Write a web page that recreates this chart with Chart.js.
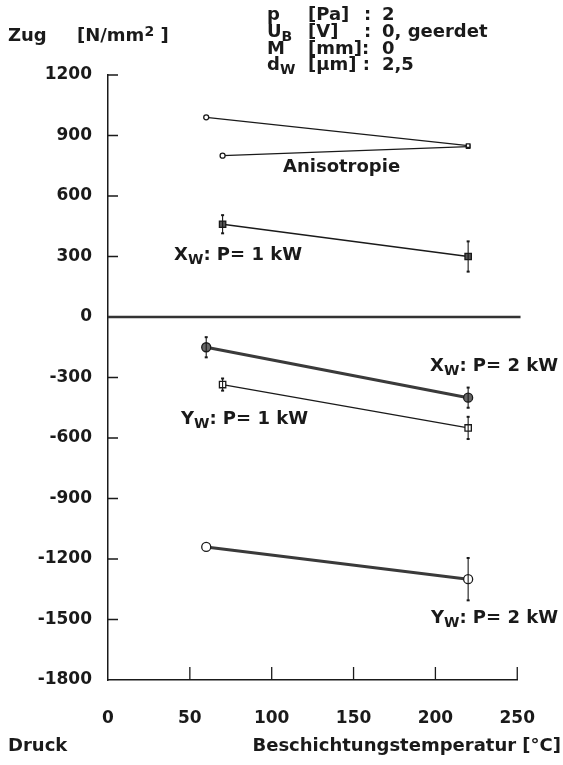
<!DOCTYPE html>
<html>
<head>
<meta charset="utf-8">
<script src="https://cdn.jsdelivr.net/npm/chart.js@4.4.1/dist/chart.umd.min.js"></script>
<style>
  html, body { margin: 0; padding: 0; background: #fff; }
  #wrap { width: 563px; height: 765px; }
</style>
</head>
<body>
<div id="wrap"><canvas id="c" width="563" height="765"></canvas></div>
<script>
// Eigenspannung gegen Beschichtungstemperatur

const FONT = "'DejaVu Sans', 'Open Sans', sans-serif";
const INK = "#1a1a1a";

// Achsen
const tempTicks = [0, 50, 100, 150, 200, 250];
const spannTicks = [1200, 900, 600, 300, 0, -300, -600, -900, -1200, -1500, -1800];

// Nulllinie (läuft etwas über 250 hinaus)
const nullT = [0, 252];
const nullS = [0, 0];

// Anisotropie (zwei Linien, ohne Fehlerbalken)
const anisoObenT = [60, 220];
const anisoObenS = [990, 850];
const anisoUntenT = [70, 220];
const anisoUntenS = [800, 845];

// Xw, P = 1 kW
const xw1T = [70, 220];
const xw1S = [460, 300];
const xw1Err = [45, 75];

// Xw, P = 2 kW
const xw2T = [60, 220];
const xw2S = [-150, -400];
const xw2Err = [50, 50];

// Yw, P = 1 kW
const yw1T = [70, 220];
const yw1S = [-335, -550];
const yw1Err = [30, 55];

// Yw, P = 2 kW
const yw2T = [60, 220];
const yw2S = [-1140, -1300];
const yw2Err = [0, 105];

const pts = (t, s) => t.map((x, i) => ({ x, y: s[i] }));

function serie(label, t, s, opt) {
  return Object.assign({
    label,
    data: pts(t, s),
    showLine: true,
    borderColor: INK,
    borderWidth: 1.3,
    pointBorderColor: INK,
    pointBorderWidth: 1.3,
    pointBackgroundColor: "#fff",
    pointRadius: 4.5
  }, opt);
}

// Text mit Indizes: parts = [[text, "sub"|"sup"|""], ...]
function partFont(mode, size) {
  const s = mode ? Math.round(size * 0.75) : size;
  return `bold ${s}px ${FONT}`;
}

function richText(ctx, x, y, parts, size, align) {
  ctx.textBaseline = "middle";
  ctx.textAlign = "left";
  let total = 0;
  for (const [txt, mode] of parts) {
    ctx.font = partFont(mode, size);
    total += ctx.measureText(txt).width;
  }
  let cx = align === "right" ? x - total : x;
  for (const [txt, mode] of parts) {
    ctx.font = partFont(mode, size);
    const dy = mode === "sub" ? size * 0.3 : mode === "sup" ? -size * 0.2 : 0;
    ctx.fillText(txt, cx, y + dy);
    cx += ctx.measureText(txt).width;
  }
}

// Index im datasets-Array -> Fehlerbalken
const errSets = { 3: xw1Err, 4: xw2Err, 5: yw1Err, 6: yw2Err };

const extras = {
  id: "extras",
  afterDraw(chart) {
    const { ctx, scales: { x, y } } = chart;
    ctx.save();
    ctx.strokeStyle = INK;
    ctx.fillStyle = INK;

    // kurze Striche nach innen
    ctx.lineWidth = 1.3;
    ctx.beginPath();
    for (const v of tempTicks.slice(1)) {
      const px = x.getPixelForValue(v);
      ctx.moveTo(px, y.bottom);
      ctx.lineTo(px, y.bottom - 13);
    }
    for (const v of spannTicks) {
      if (v === 0 || v === -1800) continue;
      const py = y.getPixelForValue(v);
      ctx.moveTo(x.left, py);
      ctx.lineTo(x.left + 10, py);
    }
    ctx.stroke();

    // Fehlerbalken
    ctx.lineWidth = 1.1;
    for (const [idx, errs] of Object.entries(errSets)) {
      const ds = chart.data.datasets[idx];
      ds.data.forEach((p, i) => {
        const e = errs[i];
        if (!e) return;
        const px = x.getPixelForValue(p.x);
        const y1 = y.getPixelForValue(p.y + e);
        const y2 = y.getPixelForValue(p.y - e);
        ctx.beginPath();
        ctx.moveTo(px, y1);
        ctx.lineTo(px, y2);
        ctx.stroke();
        ctx.fillRect(px - 1.5, y1 - 1, 3, 2);
        ctx.fillRect(px - 1.5, y2 - 1, 3, 2);
      });
    }

    // Beschriftungen
    const S = 18;
    richText(ctx, 8, 36, [["Zug", ""]], S);
    richText(ctx, 77, 36, [["[N/mm", ""], ["2", "sup"], [" ]", ""]], S);

    const rows = [
      [[["p", ""]], "[Pa]", ":", "2", 15],
      [[["U", ""], ["B", "sub"]], "[V]", ":", "0, geerdet", 32],
      [[["M", ""]], "[mm]:", "", "0", 49],
      [[["d", ""], ["W", "sub"]], "[\u00b5m] :", "", "2,5", 65]
    ];
    for (const [sym, unit, colon, val, ry] of rows) {
      richText(ctx, 267, ry, sym, S);
      richText(ctx, 308, ry, [[unit, ""]], S);
      if (colon) richText(ctx, 364, ry, [[colon, ""]], S);
      richText(ctx, 382, ry, [[val, ""]], S);
    }

    richText(ctx, 283, 167, [["Anisotropie", ""]], S);
    richText(ctx, 302, 255, [["X", ""], ["W", "sub"], [": P= 1 kW", ""]], S, "right");
    richText(ctx, 558, 366, [["X", ""], ["W", "sub"], [": P= 2 kW", ""]], S, "right");
    richText(ctx, 308, 419, [["Y", ""], ["W", "sub"], [": P= 1 kW", ""]], S, "right");
    richText(ctx, 558, 618, [["Y", ""], ["W", "sub"], [": P= 2 kW", ""]], S, "right");

    richText(ctx, 8, 746, [["Druck", ""]], S);
    richText(ctx, 561, 746, [["Beschichtungstemperatur [\u00b0C]", ""]], S, "right");
    ctx.restore();
  }
};

new Chart(document.getElementById("c"), {
  type: "scatter",
  data: {
    datasets: [
      serie("Null", nullT, nullS, {
        borderColor: "#333", borderWidth: 2.5, pointRadius: 0, clip: false
      }),
      serie("Anisotropie oben", anisoObenT, anisoObenS, {
        pointRadius: 2.5, pointStyle: ["circle", "rect"], borderWidth: 1.2
      }),
      serie("Anisotropie unten", anisoUntenT, anisoUntenS, {
        pointRadius: 2.5, pointStyle: ["circle", "rect"], borderWidth: 1.2
      }),
      serie("Xw P=1 kW", xw1T, xw1S, {
        pointStyle: "rect", pointBackgroundColor: "#555"
      }),
      serie("Xw P=2 kW", xw2T, xw2S, {
        pointStyle: "circle", pointBackgroundColor: "#666",
        borderColor: "#3a3a3a", borderWidth: 3
      }),
      serie("Yw P=1 kW", yw1T, yw1S, { pointStyle: "rect" }),
      serie("Yw P=2 kW", yw2T, yw2S, {
        pointStyle: "circle", borderColor: "#3a3a3a", borderWidth: 3
      })
    ]
  },
  options: {
    responsive: false,
    animation: false,
    layout: { padding: { top: 75, right: 23, bottom: 0, left: 0 } },
    plugins: { legend: { display: false }, tooltip: { enabled: false } },
    scales: {
      x: {
        type: "linear",
        min: 0, max: 250,
        afterFit: (s) => { s.height = 85; },
        afterBuildTicks: (s) => { s.ticks = tempTicks.map(v => ({ value: v })); },
        border: { display: true, color: INK, width: 1.5 },
        grid: { display: false, drawTicks: false },
        ticks: {
          padding: 28, color: INK,
          callback: (v) => String(v),
          font: { family: FONT, size: 17, weight: "bold" }
        }
      },
      y: {
        type: "linear",
        min: -1800, max: 1200,
        afterFit: (s) => { s.width = 108; },
        afterBuildTicks: (s) => { s.ticks = spannTicks.map(v => ({ value: v })); },
        border: { display: true, color: INK, width: 1.5 },
        grid: { display: false, drawTicks: false },
        ticks: {
          padding: 16, color: INK,
          callback: (v) => String(v),
          font: { family: FONT, size: 17, weight: "bold" }
        }
      }
    }
  },
  plugins: [extras]
});
</script>
</body>
</html>
